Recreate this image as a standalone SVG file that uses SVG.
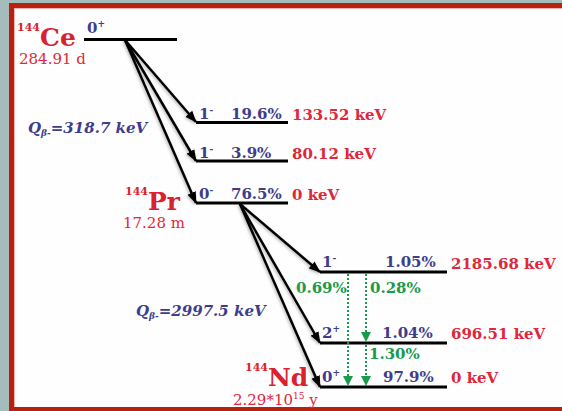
<svg xmlns="http://www.w3.org/2000/svg" width="562" height="411" viewBox="0 0 562 411">
<style>
.lvl{stroke:#000;stroke-width:3;fill:none}
.t{font-family:"DejaVu Serif","Liberation Serif",serif;font-weight:bold;font-size:15px}
.red{fill:#e0263a}
.blue{fill:#3d3d8c}
.green{fill:#199a4c}
.hl{font-family:"DejaVu Serif","Liberation Serif",serif;font-size:15px;fill:#e0263a}
.nuc{font-family:"DejaVu Serif","Liberation Serif",serif;font-weight:bold;font-size:25px;fill:#d9222f}
.mass{font-family:"DejaVu Serif","Liberation Serif",serif;font-weight:bold;font-size:11px;fill:#d9222f}
.q{font-family:"DejaVu Serif","Liberation Serif",serif;font-weight:bold;font-style:italic;font-size:15px;fill:#3d3d8c}
.sup{font-size:9px}
.beta{stroke:#000;stroke-width:2.5;fill:none;marker-end:url(#ah)}
.gam{stroke:#199a4c;stroke-width:2;stroke-dasharray:2 2;fill:none;marker-end:url(#gh)}
</style>
<defs>
<marker id="ah" markerUnits="userSpaceOnUse" markerWidth="12" markerHeight="10" refX="11" refY="5" orient="auto">
<path d="M0,0.5 L12,5 L0,9.5 z" fill="#000"/>
</marker>
<marker id="gh" markerUnits="userSpaceOnUse" markerWidth="10" markerHeight="10" refX="10" refY="5" orient="auto">
<path d="M0,0 L10,5 L0,10 z" fill="#199a4c"/>
</marker>
<filter id="sh" x="-20%" y="-20%" width="140%" height="140%">
<feDropShadow dx="-1" dy="1" stdDeviation="1.5" flood-color="#000" flood-opacity="0.3"/>
</filter>
</defs>
<rect x="0" y="0" width="562" height="411" fill="#a5bcbc"/>
<rect x="9" y="3" width="553" height="408" fill="#b8200f"/>
<rect x="14" y="8" width="548" height="399" fill="#f4b4b0"/>
<rect x="15" y="9" width="547" height="398" fill="#fefefe"/>

<g id="ce144">
<line class="lvl" x1="84" y1="39.5" x2="177" y2="39.5"/>
<text class="mass" x="17" y="31">144</text>
<text class="nuc" x="40" y="46">Ce</text>
<text class="hl" x="19" y="64">284.91 d</text>
<text class="t blue" x="87" y="33">0<tspan class="sup" dy="-6">+</tspan></text>
</g>

<g id="pr-133">
<line class="lvl" x1="196" y1="122.5" x2="288" y2="122.5"/>
<text class="t blue" x="199" y="119">1<tspan class="sup" dy="-6">-</tspan></text>
<text class="t blue" x="231" y="119">19.6%</text>
<text class="t red" x="292" y="120">133.52 keV</text>
</g>

<g id="pr-80">
<line class="lvl" x1="196" y1="161" x2="288" y2="161"/>
<text class="t blue" x="199" y="158">1<tspan class="sup" dy="-6">-</tspan></text>
<text class="t blue" x="231" y="158">3.9%</text>
<text class="t red" x="292" y="159">80.12 keV</text>
</g>

<g id="pr144">
<line class="lvl" x1="196" y1="203" x2="288" y2="203"/>
<text class="t blue" x="199" y="199">0<tspan class="sup" dy="-6">-</tspan></text>
<text class="t blue" x="231" y="199">76.5%</text>
<text class="t red" x="292" y="200">0 keV</text>
<text class="mass" x="125" y="195">144</text>
<text class="nuc" x="148" y="210">Pr</text>
<text class="hl" x="123" y="228">17.28 m</text>
</g>

<g id="nd-2185">
<line class="lvl" x1="320" y1="272" x2="447" y2="272"/>
<text class="t blue" x="322" y="267">1<tspan class="sup" dy="-6">-</tspan></text>
<text class="t blue" x="385" y="267">1.05%</text>
<text class="t red" x="451" y="269">2185.68 keV</text>
</g>

<g id="nd-696">
<line class="lvl" x1="320" y1="343" x2="447" y2="343"/>
<text class="t blue" x="322" y="338">2<tspan class="sup" dy="-6">+</tspan></text>
<text class="t blue" x="382" y="338">1.04%</text>
<text class="t red" x="451" y="339">696.51 keV</text>
</g>

<g id="nd144">
<line class="lvl" x1="320" y1="387" x2="447" y2="387"/>
<text class="t blue" x="322" y="382">0<tspan class="sup" dy="-6">+</tspan></text>
<text class="t blue" x="383" y="382">97.9%</text>
<text class="t red" x="451" y="383">0 keV</text>
<text class="mass" x="245" y="371">144</text>
<text class="nuc" x="268" y="386">Nd</text>
<text class="hl" x="233" y="405">2.29*10<tspan class="sup" dy="-6">15</tspan><tspan dy="6"> y</tspan></text>
</g>

<g id="connectors">
<g filter="url(#sh)">
<line class="beta" x1="125" y1="40" x2="196" y2="122"/>
<line class="beta" x1="125" y1="40" x2="196" y2="161"/>
<line class="beta" x1="125" y1="40" x2="196" y2="203"/>
<line class="beta" x1="240" y1="204" x2="320" y2="272"/>
<line class="beta" x1="240" y1="204" x2="320" y2="343"/>
<line class="beta" x1="240" y1="204" x2="320" y2="387"/>
</g>
<line class="gam" x1="348" y1="274" x2="348" y2="386"/>
<line class="gam" x1="366" y1="274" x2="366" y2="342"/>
<line class="gam" x1="366" y1="345" x2="366" y2="386"/>
<text class="t green" x="296" y="293">0.69%</text>
<text class="t green" x="370" y="293">0.28%</text>
<text class="t green" x="369" y="359">1.30%</text>
<text class="q" x="28" y="133">Q<tspan font-size="9" dy="3">β-</tspan><tspan dy="-3">=318.7 keV</tspan></text>
<text class="q" x="136" y="316">Q<tspan font-size="9" dy="3">β-</tspan><tspan dy="-3">=2997.5 keV</tspan></text>
</g>
</svg>
